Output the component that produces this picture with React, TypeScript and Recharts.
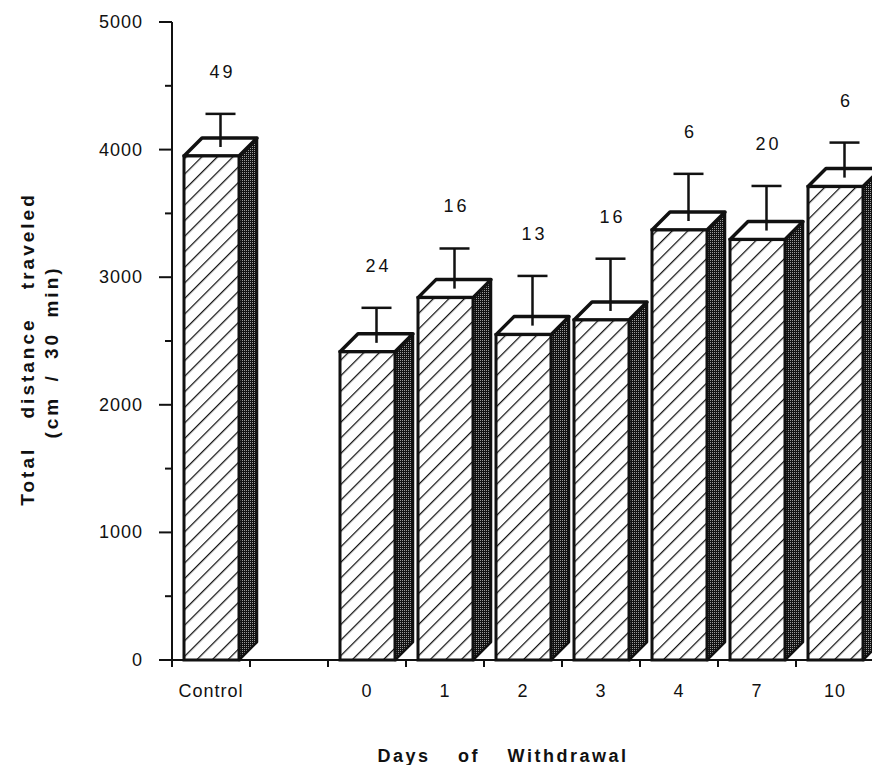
import { BarChart, Bar, XAxis, YAxis } from "recharts";

const categories = ["Control", "", "0", "1", "2", "3", "4", "7", "10"];
const means = [3950, null, 2415, 2840, 2550, 2665, 3370, 3295, 3710];
const errors = [330, null, 345, 385, 460, 480, 440, 420, 345];
const counts = [49, null, 24, 16, 13, 16, 6, 20, 6];
const yTicks = [0, 500, 1000, 1500, 2000, 2500, 3000, 3500, 4000, 4500, 5000];

const data = categories.map((day, i) => ({ day, mean: means[i], err: errors[i], n: counts[i] }));

const FONT = "'Liberation Sans', Arial, Helvetica, sans-serif";
const AXIS_X = 172;
const AXIS_Y = 660;
const BAND = 78;
const DEPTH = 18;

function Bar3D(props: any) {
  const { x, y, width, height, payload, index } = props;
  if (payload.mean == null || !height) return null;
  const scale = height / payload.mean;
  const x2 = x + width;
  const bottom = y + height;
  const ex = x + width / 2 + DEPTH / 2;
  const eBase = y - DEPTH / 2;
  const eTop = y - payload.err * scale;
  const hatch = `hatch-${index}`;
  const dots = `dots-${index}`;
  return (
    <g>
      <defs>
        <pattern id={hatch} width={11} height={11} patternUnits="userSpaceOnUse" patternTransform="rotate(45)">
          <rect width={11} height={11} fill="#fff" />
          <line x1={0} y1={0} x2={0} y2={11} stroke="#111" strokeWidth={2.5} />
        </pattern>
        <pattern id={dots} width={2} height={2} patternUnits="userSpaceOnUse">
          <rect width={2} height={2} fill="#111" />
          <rect width={1} height={1} fill="#999" />
        </pattern>
      </defs>
      <polygon
        points={`${x2},${y} ${x2 + DEPTH},${y - DEPTH} ${x2 + DEPTH},${bottom - DEPTH} ${x2},${bottom}`}
        fill={`url(#${dots})`}
        stroke="#111"
        strokeWidth={2.5}
        strokeLinejoin="round"
      />
      <polygon
        points={`${x},${y} ${x + DEPTH},${y - DEPTH} ${x2 + DEPTH},${y - DEPTH} ${x2},${y}`}
        fill="#fff"
        stroke="#111"
        strokeWidth={3.5}
        strokeLinejoin="round"
      />
      <rect x={x} y={y} width={width} height={height} fill={`url(#${hatch})`} stroke="#111" strokeWidth={3} />
      <line x1={ex} y1={eBase} x2={ex} y2={eTop} stroke="#111" strokeWidth={2.5} />
      <line x1={ex - 15} y1={eTop} x2={ex + 15} y2={eTop} stroke="#111" strokeWidth={2.5} />
      <text
        x={ex + 2}
        y={eTop - 36}
        textAnchor="middle"
        fontFamily={FONT}
        fontSize={18}
        letterSpacing={3}
        fill="#111"
      >
        {payload.n}
      </text>
    </g>
  );
}

function YTick(props: any) {
  const { y, payload } = props;
  const major = payload.value % 1000 === 0;
  return (
    <g>
      <line x1={AXIS_X - (major ? 13 : 7)} y1={y} x2={AXIS_X} y2={y} stroke="#111" strokeWidth={2} />
      {major && (
        <text x={143} y={y + 6} textAnchor="end" fontFamily={FONT} fontSize={18} letterSpacing={1} fill="#111">
          {payload.value}
        </text>
      )}
    </g>
  );
}

function XTick(props: any) {
  const { x, payload, index } = props;
  return (
    <g>
      {index === 0 && (
        <>
          <line x1={x - BAND / 2 - 9} y1={AXIS_Y} x2={x - BAND / 2} y2={AXIS_Y} stroke="#111" strokeWidth={2} />
          <line x1={x - BAND / 2} y1={AXIS_Y} x2={x - BAND / 2} y2={AXIS_Y + 7} stroke="#111" strokeWidth={2} />
        </>
      )}
      <line x1={x + BAND / 2} y1={AXIS_Y} x2={x + BAND / 2} y2={AXIS_Y + 7} stroke="#111" strokeWidth={2} />
      <text x={x} y={697} textAnchor="middle" fontFamily={FONT} fontSize={18} letterSpacing={1} fill="#111">
        {payload.value}
      </text>
    </g>
  );
}

function YTitle() {
  return (
    <g fontFamily={FONT} fontWeight="bold" fontSize={19} fill="#111">
      <text
        x={27}
        y={349}
        transform="rotate(-90, 27, 349)"
        textAnchor="middle"
        dominantBaseline="central"
        letterSpacing={3}
        wordSpacing={20}
      >
        Total distance traveled
      </text>
      <text
        x={51}
        y={352}
        transform="rotate(-90, 51, 352)"
        textAnchor="middle"
        dominantBaseline="central"
        letterSpacing={3}
        wordSpacing={6}
      >
        (cm / 30 min)
      </text>
    </g>
  );
}

function XTitle() {
  return (
    <text
      x={503}
      y={762}
      textAnchor="middle"
      fontFamily={FONT}
      fontWeight="bold"
      fontSize={18}
      letterSpacing={2.5}
      wordSpacing={20}
      fill="#111"
    >
      Days of Withdrawal
    </text>
  );
}

export default function App() {
  return (
    <div style={{ position: "absolute", left: 0, top: 0, width: 872, height: 765, overflow: "hidden", background: "#fff" }}>
      <BarChart width={900} height={765} data={data} margin={{ top: 22, right: 26, left: 0, bottom: 45 }} barSize={55}>
        <XAxis
          dataKey="day"
          height={60}
          interval={0}
          tick={<XTick />}
          tickLine={false}
          axisLine={{ stroke: "#111", strokeWidth: 2 }}
          label={<XTitle />}
        />
        <YAxis
          width={172}
          domain={[0, 5000]}
          ticks={yTicks}
          interval={0}
          tick={<YTick />}
          tickLine={false}
          axisLine={{ stroke: "#111", strokeWidth: 2 }}
          label={<YTitle />}
        />
        <Bar dataKey="mean" shape={<Bar3D />} isAnimationActive={false} />
      </BarChart>
    </div>
  );
}
